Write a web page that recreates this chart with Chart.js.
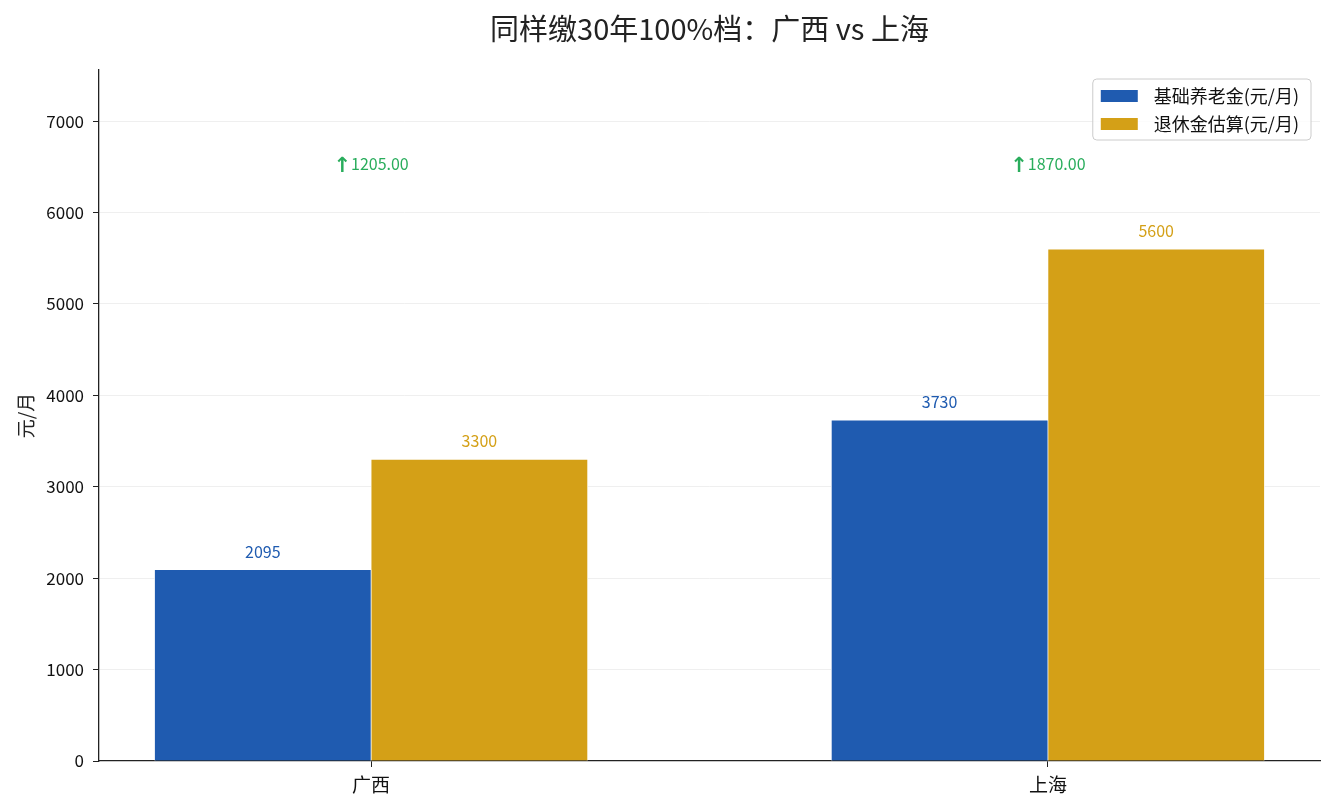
<!DOCTYPE html>
<html>
<head>
<meta charset="utf-8">
<script src="https://cdn.jsdelivr.net/npm/chart.js@4/dist/chart.umd.min.js"></script>
<style>
  html, body { margin: 0; padding: 0; background: #fff; }
  #wrap { width: 1335px; height: 810px; }
</style>
</head>
<body>
<div id="wrap"><canvas id="myChart"></canvas></div>
<script>
// data
const regions = ['广西', '上海'];
const basicPension = [2095, 3730];
const totalPension = [3300, 5600];
const seriesNames = ['基础养老金(元/月)', '退休金估算(元/月)'];
const seriesColors = ['#1f5bb0', '#d4a017'];
const yTicks = [0, 1000, 2000, 3000, 4000, 5000, 6000, 7000];
const yMax = 7560;
const diffLevel = 6530;   // height where the difference notes sit
const barWidth = 0.32;    // bar width in category units
const chartTitle = '同样缴30年100%档：广西 vs 上海';

const FONT = "'Noto Sans CJK SC', 'Noto Sans', sans-serif";
const GREEN = '#29ad5c';

// bars are placed left/right of each category centre, like x - w/2, x + w/2
function barPoints(values, side) {
    return values.map((v, i) => ({ x: i + side * barWidth / 2, y: v }));
}

const valueLabels = {
    id: 'valueLabels',
    afterDatasetsDraw(chart) {
        const ctx = chart.ctx;
        ctx.save();
        ctx.font = '16px ' + FONT;
        ctx.textAlign = 'center';
        ctx.textBaseline = 'middle';
        chart.data.datasets.forEach((ds, d) => {
            const meta = chart.getDatasetMeta(d);
            ctx.fillStyle = ds.backgroundColor;
            meta.data.forEach((bar, i) => {
                ctx.fillText(String(ds.data[i].y), bar.x, bar.y - 18);
            });
        });

        // difference notes over each category
        const xs = chart.scales.x, ys = chart.scales.y;
        ctx.fillStyle = GREEN;
        ctx.textAlign = 'left';
        ctx.textBaseline = 'alphabetic';
        regions.forEach((r, i) => {
            const diff = (totalPension[i] - basicPension[i]).toFixed(2);
            const arrowFont = "bold 21px 'DejaVu Sans', sans-serif";
            const numFont = '16px ' + FONT;
            ctx.font = arrowFont;
            const aw = ctx.measureText('↑').width;
            ctx.font = numFont;
            const nw = ctx.measureText(diff).width;
            const cx = xs.getPixelForValue(i);
            const base = ys.getPixelForValue(diffLevel) + 6;
            const x = cx - (aw + nw) / 2;
            ctx.font = arrowFont;
            ctx.fillText('↑', x, base + 2);
            ctx.font = numFont;
            ctx.fillText(diff, x + aw, base);
        });
        ctx.restore();
    }
};

const titleAndLegend = {
    id: 'titleAndLegend',
    afterDraw(chart) {
        const ctx = chart.ctx;
        const area = chart.chartArea;
        ctx.save();

        // title centred over the plot area
        ctx.font = '29px ' + FONT;
        ctx.fillStyle = '#222';
        ctx.textAlign = 'center';
        ctx.textBaseline = 'middle';
        ctx.fillText(chartTitle, (area.left + area.right) / 2, 29);

        // legend box in the upper right corner
        ctx.font = '18px ' + FONT;
        const textW = Math.max(...seriesNames.map(n => ctx.measureText(n).width));
        const w = 8 + 37 + 16 + textW + 12;
        const h = 61;
        const x0 = area.right - 9 - w;
        const y0 = area.top + 9;

        ctx.beginPath();
        ctx.roundRect(x0, y0, w, h, 4);
        ctx.fillStyle = 'rgba(255,255,255,0.85)';
        ctx.fill();
        ctx.strokeStyle = '#cccccc';
        ctx.lineWidth = 1;
        ctx.stroke();

        ctx.textAlign = 'left';
        seriesNames.forEach((name, i) => {
            const cy = y0 + 17 + i * 28;
            ctx.fillStyle = seriesColors[i];
            ctx.fillRect(x0 + 8, cy - 6, 37, 12);
            ctx.fillStyle = '#111';
            ctx.fillText(name, x0 + 8 + 37 + 16, cy);
        });
        ctx.restore();
    }
};

const ctx = document.getElementById('myChart').getContext('2d');
const barStyle = {
    grouped: false,
    barPercentage: 1,
    categoryPercentage: 1,
    borderColor: '#ffffff',
    borderWidth: 0.7
};
const myChart = new Chart(ctx, {
    type: 'bar',
    data: {
        datasets: [{
            label: seriesNames[0],
            data: barPoints(basicPension, -1),
            backgroundColor: seriesColors[0],
            ...barStyle
        }, {
            label: seriesNames[1],
            data: barPoints(totalPension, 1),
            backgroundColor: seriesColors[1],
            ...barStyle
        }]
    },
    options: {
        responsive: true,
        maintainAspectRatio: false,
        animation: false,
        layout: { padding: { left: 0, right: 15, top: 70, bottom: 0 } },
        plugins: {
            legend: { display: false },
            tooltip: { enabled: false },
            title: { display: false }
        },
        scales: {
            x: {
                type: 'linear',
                offset: false,
                min: -barWidth - 0.05 * (1 + 2 * barWidth),
                max: 1 + barWidth + 0.05 * (1 + 2 * barWidth),
                afterBuildTicks(scale) {
                    scale.ticks = regions.map((r, i) => ({ value: i }));
                },
                afterFit(scale) { scale.height = 49; },
                ticks: {
                    callback: (v) => regions[v],
                    color: '#111',
                    padding: 6,
                    maxRotation: 0,
                    font: { family: FONT, size: 19 }
                },
                grid: {
                    offset: false,
                    drawOnChartArea: false,
                    drawTicks: true,
                    tickLength: 6,
                    tickColor: '#222'
                },
                border: { display: true, color: '#222', width: 1.3 }
            },
            y: {
                min: 0,
                max: yMax,
                z: 1,
                afterBuildTicks(scale) {
                    scale.ticks = yTicks.map(v => ({ value: v }));
                },
                afterFit(scale) { scale.width = 99; },
                ticks: {
                    callback: (v) => String(v),
                    color: '#111',
                    padding: 9,
                    font: { family: FONT, size: 17 }
                },
                grid: {
                    color: (c) => c.tick && c.tick.value === 0 ? 'rgba(0,0,0,0)' : 'rgba(232,232,232,0.7)',
                    lineWidth: 1,
                    tickLength: 6,
                    tickColor: '#222'
                },
                border: { display: true, color: '#222', width: 1.3 },
                title: {
                    display: true,
                    text: '元/月',
                    color: '#222',
                    font: { family: FONT, size: 19 },
                    padding: { top: 14, bottom: 0 }
                }
            }
        }
    },
    plugins: [valueLabels, titleAndLegend]
});
</script>
</body>
</html>
